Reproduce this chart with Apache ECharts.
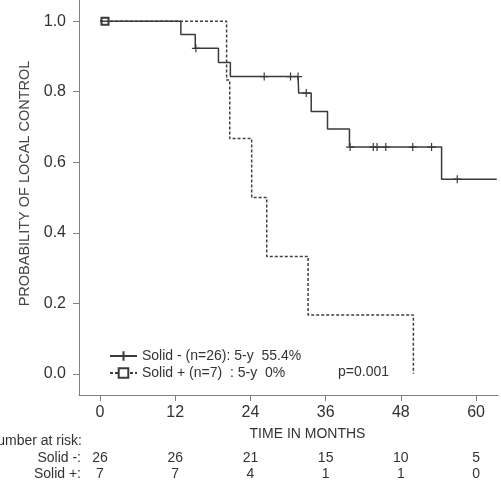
<!DOCTYPE html>
<html>
<head>
<meta charset="utf-8">
<script src="https://cdn.jsdelivr.net/npm/echarts@6/dist/echarts.min.js"></script>
<style>
  html, body { margin: 0; padding: 0; background: #fff; }
  #chart { width: 501px; height: 482px; }
</style>
</head>
<body>
<div id="chart"></div>
<script>
// Solid - (n=26)
const negTime = [0, 12.9, 15.2, 15.3, 18.9, 20.8, 26.2, 30.4, 31.6, 31.7, 32.9, 33.7, 36.3, 39.8, 39.9, 43.6, 44.2, 45.6, 49.9, 52.9, 54.5, 57.0, 63.3]
const negSurv = [1, 0.962, 0.923, 0.923, 0.883, 0.843, 0.843, 0.843, 0.843, 0.796, 0.796, 0.744, 0.694, 0.643, 0.643, 0.643, 0.643, 0.643, 0.643, 0.643, 0.552, 0.552, 0.552]
const negCensor = [0, 0, 0, 1, 0, 0, 1, 1, 1, 0, 1, 0, 0, 0, 1, 1, 1, 1, 1, 1, 0, 1, 0]

// Solid + (n=7)
const posTime = [0, 0.8, 20.2, 20.7, 24.2, 26.6, 33.2, 50.0]
const posSurv = [1, 1, 0.833, 0.667, 0.5, 0.333, 0.167, 0]
const posCensor = [0, 1, 0, 0, 0, 0, 0, 0]

const xTicks = [0, 12, 24, 36, 48, 60]
const yTicks = [0, 0.2, 0.4, 0.6, 0.8, 1.0]

// number at risk
const riskNeg = [26, 26, 21, 15, 10, 5]
const riskPos = [7, 7, 4, 1, 1, 0]

const font = "'Liberation Sans', Arial, sans-serif"
const axisGray = '#808080'

function kmData(times, surv, censor) {
    return times.map((t, i) => censor[i] ? [t, surv[i]] : { value: [t, surv[i]], symbol: 'none' })
}

let myChart = echarts.init(document.getElementById('chart'), null, { renderer: 'canvas' })

myChart.setOption({
    animation: false,
    textStyle: { fontFamily: font },
    grid: { left: 79, right: 3, top: 0, bottom: 87 },
    legend: {
        orient: 'vertical',
        left: 104,
        top: 344,
        itemWidth: 27,
        itemHeight: 12,
        itemGap: 3,
        textStyle: { fontSize: 14, color: '#333', fontFamily: font },
        data: ['Solid - (n=26): 5-y  55.4%', 'Solid + (n=7)  : 5-y  0%']
    },
    xAxis: {
        type: 'value',
        min: -3.35,
        max: 63.5,
        name: 'TIME IN MONTHS',
        nameLocation: 'middle',
        nameGap: 32,
        nameTextStyle: { fontSize: 14, color: '#333', padding: [0, 0, 0, 38] },
        axisLine: { show: true, onZero: false, lineStyle: { color: axisGray, width: 1 } },
        axisTick: { show: true, length: 6, customValues: xTicks, lineStyle: { color: axisGray } },
        axisLabel: { customValues: xTicks, fontSize: 16, color: '#333', margin: 10 },
        splitLine: { show: false }
    },
    yAxis: {
        type: 'value',
        min: -0.06,
        max: 1.06,
        name: 'PROBABILITY OF LOCAL CONTROL',
        nameLocation: 'middle',
        nameGap: 46,
        nameTextStyle: { fontSize: 14.5, color: '#444', padding: [0, 0, 0, 28] },
        axisLine: { show: true, onZero: false, lineStyle: { color: axisGray, width: 1 } },
        axisTick: { show: true, length: 6, customValues: yTicks, lineStyle: { color: axisGray } },
        axisLabel: {
            customValues: yTicks,
            fontSize: 16,
            color: '#333',
            margin: 13,
            formatter: v => v.toFixed(1)
        },
        splitLine: { show: false }
    },
    series: [
        {
            name: 'Solid - (n=26): 5-y  55.4%',
            type: 'line',
            step: 'end',
            showSymbol: true,
            showAllSymbol: true,
            symbol: 'path://M0,5L10,5M5,0L5,10',
            symbolSize: 8,
            lineStyle: { color: '#3a3a3a', width: 1.5 },
            itemStyle: { color: '#3a3a3a', borderColor: '#3a3a3a', borderWidth: 1.2 },
            data: kmData(negTime, negSurv, negCensor),
            z: 3
        },
        {
            name: 'Solid + (n=7)  : 5-y  0%',
            type: 'line',
            step: 'end',
            showSymbol: true,
            showAllSymbol: true,
            symbol: 'emptyRect',
            symbolSize: 7,
            lineStyle: { color: '#3f3f3f', width: 1.5, type: [3, 2] },
            itemStyle: { color: '#3a3a3a', borderColor: '#3a3a3a', borderWidth: 1.2 },
            data: kmData(posTime, posSurv, posCensor),
            z: 2
        }
    ]
})

// risk table under the axis, placed from the x scale
const riskY1 = 458
const riskY2 = 474
let graphics = [
    { type: 'text', right: 501 - 82, top: 434, style: { text: 'Number at risk:', font: '14px ' + font, fill: '#333', textAlign: 'right' } },
    { type: 'text', x: 81, y: riskY1, style: { text: 'Solid -:', font: '14px ' + font, fill: '#333', textAlign: 'right', textVerticalAlign: 'middle' } },
    { type: 'text', x: 81, y: riskY2, style: { text: 'Solid +:', font: '14px ' + font, fill: '#333', textAlign: 'right', textVerticalAlign: 'middle' } },
    { type: 'text', x: 338, y: 372, style: { text: 'p=0.001', font: '14px ' + font, fill: '#333', textVerticalAlign: 'middle' } }
]
xTicks.forEach((t, i) => {
    let px = myChart.convertToPixel({ xAxisIndex: 0 }, t)
    graphics.push({ type: 'text', x: px, y: riskY1, style: { text: String(riskNeg[i]), font: '14px ' + font, fill: '#333', textAlign: 'center', textVerticalAlign: 'middle' } })
    graphics.push({ type: 'text', x: px, y: riskY2, style: { text: String(riskPos[i]), font: '14px ' + font, fill: '#333', textAlign: 'center', textVerticalAlign: 'middle' } })
})
myChart.setOption({ graphic: graphics })
</script>
</body>
</html>
